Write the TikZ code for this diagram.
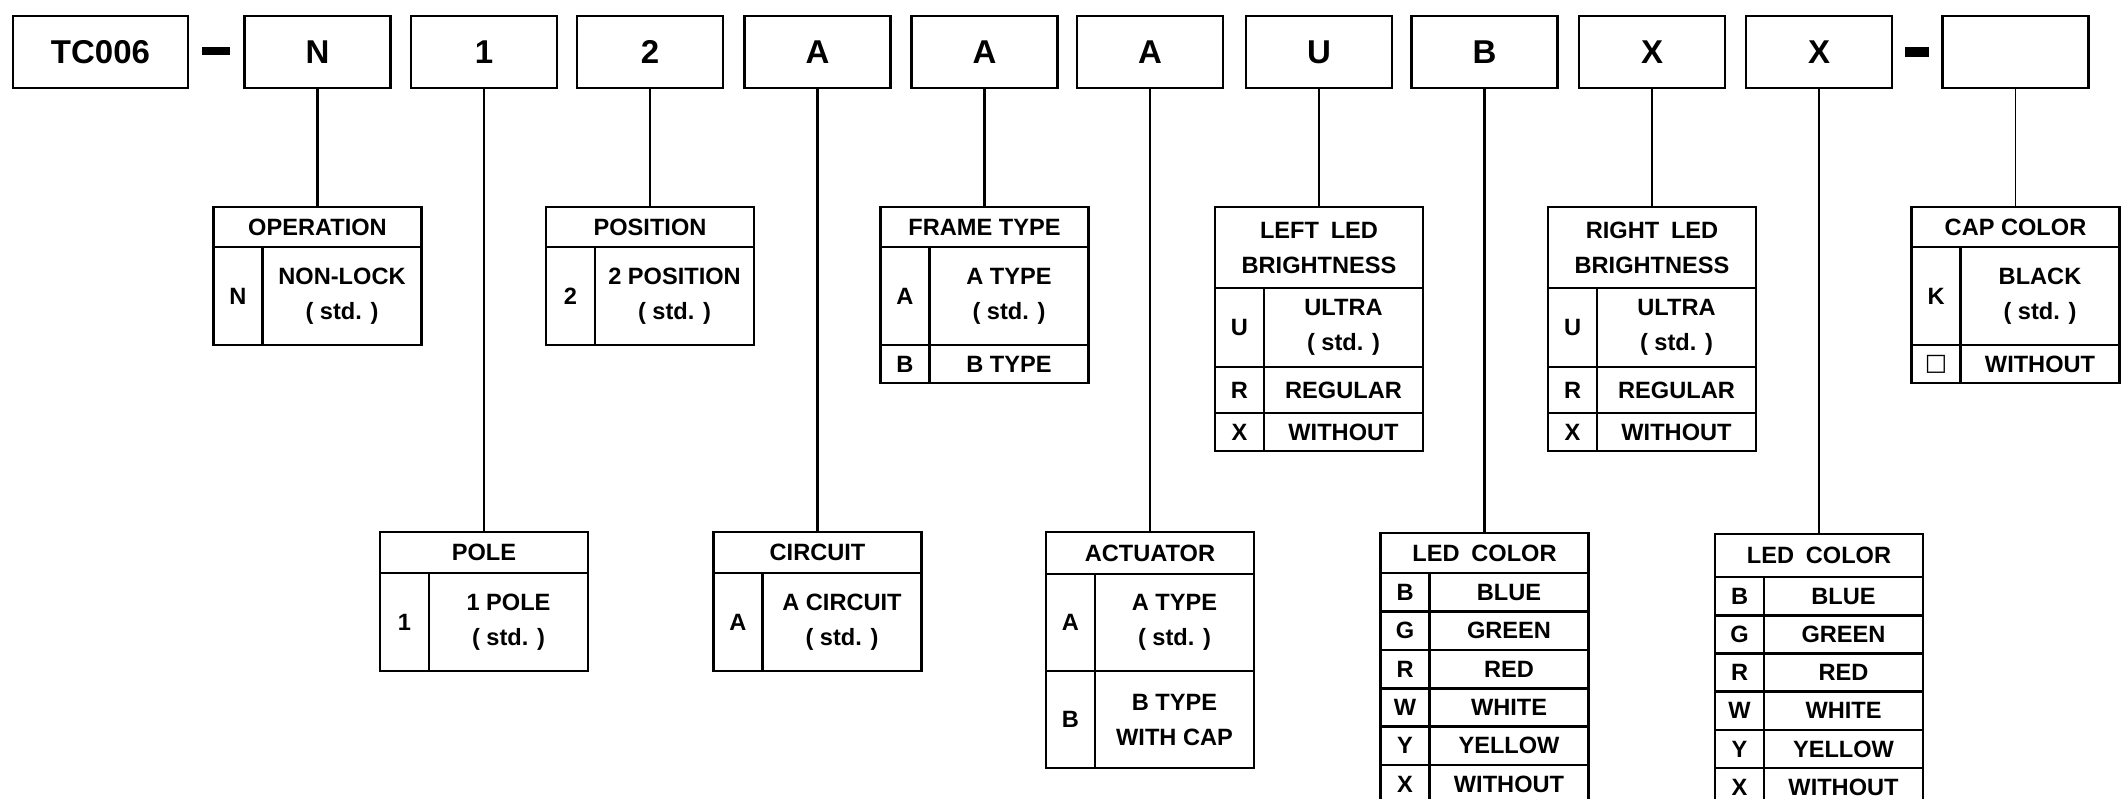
\documentclass[tikz,border=0pt]{standalone}
\usepackage{fontspec}
\setmainfont{Liberation Sans}
\newfontfamily\symfont{DejaVu Sans}
\tikzset{
  topbox/.style={draw, line width=1.4pt, minimum height=36pt, minimum width=73pt, inner sep=0pt, font=\bfseries\fontsize{16.5pt}{18pt}\selectfont},
  cellbox/.style={draw, line width=1.3pt, inner sep=0pt, outer sep=0pt, align=center, font=\bfseries\fontsize{11.8pt}{17.5pt}\selectfont},
  conn/.style={line width=1.2pt},
  dashbar/.style={fill=black, draw=none, inner sep=0pt, outer sep=0pt, minimum width=14pt, minimum height=4pt}
}
\newcommand\tabhead[5]{\node[cellbox, minimum width=104pt, minimum height=#4*0.5pt] (#1) at (#2+104,#3+#4/2) {#5};}
\newcommand\tabrow[6]{%
  \node[cellbox, minimum width=24.5pt, minimum height=#4*0.5pt] (#1c) at (#2+24.5,#3+#4/2) {#5};%
  \node[cellbox, minimum width=79.5pt, minimum height=#4*0.5pt] (#1d) at (#2+128.5,#3+#4/2) {#6};}
\begin{document}
\begin{tikzpicture}[x=0.5pt,y=-0.5pt]
\useasboundingbox (0,0) rectangle (2124,798);
\begin{scope}
\clip (0,0) rectangle (2124,798);
% top code boxes
\node[topbox, minimum width=87.5pt] (tc) at (100.5,52) {TC006};
\node[dashbar] (d1) at (216,51) {};
\node[topbox] (bN) at (317.5,52) {N};
\node[topbox] (b1) at (484,52) {1};
\node[topbox] (b2) at (650,52) {2};
\node[topbox] (bA1) at (817.5,52) {A};
\node[topbox] (bA2) at (984.5,52) {A};
\node[topbox] (bA3) at (1150,52) {A};
\node[topbox] (bU) at (1319,52) {U};
\node[topbox] (bB) at (1484.5,52) {B};
\node[topbox] (bX1) at (1652,52) {X};
\node[topbox] (bX2) at (1819,52) {X};
\node[dashbar, minimum width=12pt, minimum height=5pt] (d2) at (1917,52) {};
\node[topbox] (bE) at (2015.5,52) {};

% OPERATION
\tabhead{opH}{213.5}{207}{40}{OPERATION}
\tabrow{opN}{213.5}{247}{98}{N}{NON-LOCK\\( std. )}
% POLE
\tabhead{poH}{380}{532}{41}{POLE}
\tabrow{poA}{380}{573}{98}{1}{1 POLE\\( std. )}
% POSITION
\tabhead{psH}{546}{207}{40}{POSITION}
\tabrow{psA}{546}{247}{98}{2}{2 POSITION\\( std. )}
% CIRCUIT
\tabhead{ciH}{713.5}{532}{41}{CIRCUIT}
\tabrow{ciA}{713.5}{573}{98}{A}{A CIRCUIT\\( std. )}
% FRAME TYPE
\tabhead{frH}{880.5}{207}{40}{FRAME TYPE}
\tabrow{frA}{880.5}{247}{98}{A}{A TYPE\\( std. )}
\tabrow{frB}{880.5}{345}{38}{B}{B TYPE}
% ACTUATOR
\tabhead{acH}{1046}{532}{42}{ACTUATOR}
\tabrow{acA}{1046}{574}{97}{A}{A TYPE\\( std. )}
\tabrow{acB}{1046}{671}{97}{B}{B TYPE\\WITH CAP}
% LEFT LED BRIGHTNESS
\tabhead{llH}{1215}{207}{81}{LEFT\enspace LED\\BRIGHTNESS}
\tabrow{llU}{1215}{288}{79}{U}{ULTRA\\( std. )}
\tabrow{llR}{1215}{367}{46}{R}{REGULAR}
\tabrow{llX}{1215}{413}{38}{X}{WITHOUT}
% LED COLOR (left)
\tabhead{lcH}{1380.5}{533}{40}{LED\enspace COLOR}
\tabrow{lcB}{1380.5}{573}{38.4}{B}{BLUE}
\tabrow{lcG}{1380.5}{611.4}{38.4}{G}{GREEN}
\tabrow{lcR}{1380.5}{649.8}{38.4}{R}{RED}
\tabrow{lcW}{1380.5}{688.2}{38.4}{W}{WHITE}
\tabrow{lcY}{1380.5}{726.6}{38.4}{Y}{YELLOW}
\tabrow{lcX}{1380.5}{765}{38.4}{X}{WITHOUT}
% RIGHT LED BRIGHTNESS
\tabhead{rlH}{1548}{207}{81}{RIGHT\enspace LED\\BRIGHTNESS}
\tabrow{rlU}{1548}{288}{79}{U}{ULTRA\\( std. )}
\tabrow{rlR}{1548}{367}{46}{R}{REGULAR}
\tabrow{rlX}{1548}{413}{38}{X}{WITHOUT}
% LED COLOR (right)
\tabhead{rcH}{1715}{534}{43}{LED\enspace COLOR}
\tabrow{rcB}{1715}{577}{38.2}{B}{BLUE}
\tabrow{rcG}{1715}{615.2}{38.2}{G}{GREEN}
\tabrow{rcR}{1715}{653.4}{38.2}{R}{RED}
\tabrow{rcW}{1715}{691.6}{38.2}{W}{WHITE}
\tabrow{rcY}{1715}{729.8}{38.2}{Y}{YELLOW}
\tabrow{rcX}{1715}{768}{38.2}{X}{WITHOUT}
% CAP COLOR
\tabhead{cpH}{1911.5}{207}{40}{CAP COLOR}
\tabrow{cpK}{1911.5}{247}{98}{K}{BLACK\\( std. )}
\tabrow{cpE}{1911.5}{345}{38}{{\symfont □}}{WITHOUT}

% connectors
\draw[conn] (bN.south) -- (opH.north);
\draw[conn] (b1.south) -- (poH.north);
\draw[conn] (b2.south) -- (psH.north);
\draw[conn] (bA1.south) -- (ciH.north);
\draw[conn] (bA2.south) -- (frH.north);
\draw[conn] (bA3.south) -- (acH.north);
\draw[conn, line width=0.8pt] (bU.south) -- (llH.north);
\draw[conn] (bB.south) -- (lcH.north);
\draw[conn] (bX1.south) -- (rlH.north);
\draw[conn] (bX2.south) -- (rcH.north);
\draw[conn, line width=0.8pt] (bE.south) -- (cpH.north);
\end{scope}
\end{tikzpicture}
\end{document}
